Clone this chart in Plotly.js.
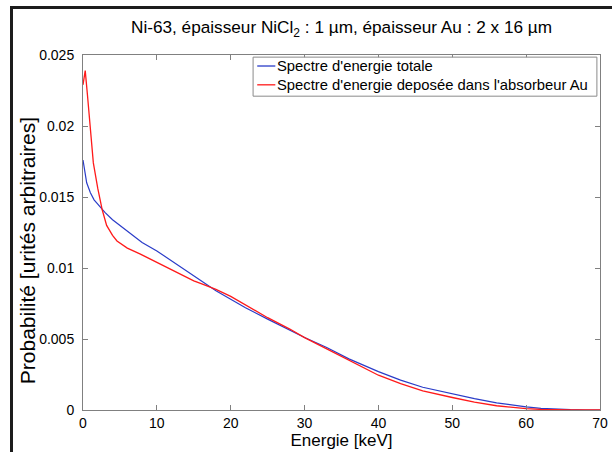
<!DOCTYPE html>
<html>
<head>
<meta charset="utf-8">
<script src="https://cdn.plot.ly/plotly-3.0.1.min.js"></script>
<style>
html,body{margin:0;padding:0;background:#fff;}
#wrap{position:relative;width:612px;height:452px;overflow:hidden;}
#chart{width:612px;height:452px;}
#frame{position:absolute;left:10px;top:6px;width:640px;height:480px;border-left:3px solid #1c1c1c;border-top:3px solid #1c1c1c;pointer-events:none;}
</style>
</head>
<body>
<div id="wrap"><div id="chart"></div><div id="frame"></div></div>
<script>
const energyTotal = [0,0.2,0.5,1,1.5,2,3,4,5,6,7,8,10,12,14,15,16,18,20,22,25,28,30,33,36,40,43,46,50,53,56,58,60,62,64,66,68,70];
const probTotal = [0.0176,0.0168,0.0160,0.0153,0.0148,0.0145,0.0139,0.0134,0.0130,0.0126,0.0122,0.0118,0.0112,0.0105,0.0098,0.0094,0.0091,0.0084,0.0078,0.0072,0.0064,0.0056,0.0051,0.0044,0.0036,0.0027,0.0021,0.0016,0.00112,0.0008,0.0005,0.00035,0.00022,0.00012,0.00006,0.00002,0.0,0.0];
const energyDep = [0,0.3,0.6,1,1.4,2,2.3,2.6,3.2,4,4.6,6,7.7,10,13,15,16,18,20,22,25,28,30,33,36,40,43,46,50,53,56,58,60,62,64,66,70];
const probDep = [0.0229,0.0239,0.0222,0.0200,0.0174,0.0156,0.0149,0.0141,0.0130,0.0123,0.0119,0.0114,0.0110,0.0104,0.0096,0.0091,0.0089,0.0085,0.0080,0.0074,0.0065,0.0057,0.0051,0.0043,0.0035,0.00245,0.00185,0.00135,0.00088,0.00055,0.0003,0.00018,0.0001,0.00004,0.00001,0,0];
const seriesNames = ["Spectre d'energie totale", "Spectre d'energie deposée dans l'absorbeur Au"];
const seriesColors = ['#2a3cc8', '#ff1a1a'];
const xTicks = [0,10,20,30,40,50,60,70];
const yTicks = [0,0.005,0.01,0.015,0.02,0.025];
const yTickText = ['0','0.005','0.01','0.015','0.02','0.025'];
const xTitle = 'Energie [keV]';
const yTitle = 'Probabilité [urités arbitraires]';

const font = 'Liberation Sans, Arial, sans-serif';
const traces = [
  {x: energyTotal, y: probTotal, type:'scatter', mode:'lines', name:seriesNames[0], line:{color:seriesColors[0], width:1.2}},
  {x: energyDep, y: probDep, type:'scatter', mode:'lines', name:seriesNames[1], line:{color:seriesColors[1], width:1.3}}
];
const axisCommon = {showgrid:false, zeroline:false, showline:true, linecolor:'#808080', linewidth:1, mirror:'ticks', ticks:'inside', ticklen:5, tickcolor:'#808080', tickfont:{family:font, size:14, color:'#000'}};

// manual legend (box, line samples, labels) in paper coordinates
const legX0 = 0.329, legX1 = 0.994, legY0 = 0.884, legY1 = 0.994;
const entryY = [0.969, 0.916];
const shapes = [{type:'rect', xref:'paper', yref:'paper', x0:legX0, x1:legX1, y0:legY0, y1:legY1, line:{color:'#8a8a8a', width:1}, fillcolor:'#fff', layer:'above'}];
const annotations = [];
seriesNames.forEach((n,i) => {
  shapes.push({type:'line', xref:'paper', yref:'paper', x0:0.337, x1:0.372, y0:entryY[i], y1:entryY[i], line:{color:seriesColors[i], width:1.3}, layer:'above'});
  annotations.push({xref:'paper', yref:'paper', x:0.372, y:entryY[i], xanchor:'left', yanchor:'middle', text:n, showarrow:false, font:{family:font, size:14.8, color:'#000'}});
});
// y axis title placed as in the reference (slightly below plot centre)
annotations.push({xref:'paper', yref:'paper', x:-0.1084, y:0.45, xanchor:'center', yanchor:'middle', textangle:-90, text:yTitle, showarrow:false, font:{family:font, size:21, color:'#000'}});

const layout = {
  width:612, height:452,
  margin:{l:83, r:12, t:55, b:42},
  paper_bgcolor:'#fff', plot_bgcolor:'#fff',
  font:{family:font, color:'#000'},
  title:{text:'Ni-63, épaisseur NiCl<sub>2</sub> : 1 µm, épaisseur Au : 2 x 16 µm', font:{family:font, size:17.2, color:'#000'}, x:0.5, xanchor:'center', y:0.94, yanchor:'middle', xref:'paper'},
  xaxis: Object.assign({}, axisCommon, {range:[0,70], tickvals:xTicks, ticktext:xTicks.map(String), title:{text:xTitle, font:{family:font, size:17}, standoff:0}}),
  yaxis: Object.assign({}, axisCommon, {range:[0,0.025], tickvals:yTicks, ticktext:yTickText, ticklabelstandoff:5}),
  showlegend:false,
  shapes: shapes,
  annotations: annotations
};
Plotly.newPlot('chart', traces, layout, {displayModeBar:false, staticPlot:true});
</script>
</body>
</html>
